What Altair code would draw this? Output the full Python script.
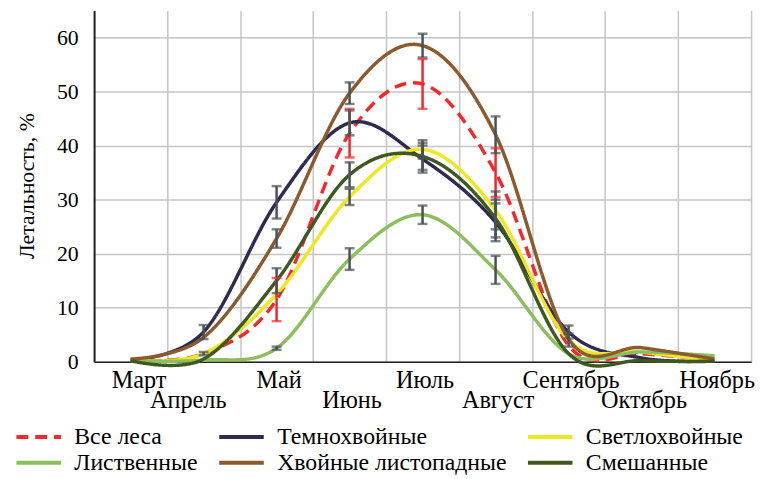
import altair as alt
import pandas as pd

months = ['Март', 'Апрель', 'Май', 'Июнь', 'Июль', 'Август', 'Сентябрь', 'Октябрь', 'Ноябрь']
series = ['Все леса', 'Темнохвойные', 'Светлохвойные', 'Лиственные', 'Хвойные листопадные', 'Смешанные']
colors = ['#F5282D', '#2E2B4F', '#EDE81F', '#8DBE5E', '#8B5A2E', '#3E5820']

vse = [0.3, 1.5, 11.5, 42.3, 51.4, 35.0, 3.0, 1.5, 0.5]
temno = [0.3, 5.5, 29.5, 44.2, 37.5, 25.8, 5.5, 0.7, 0.1]
svetlo = [0.3, 1.5, 12.5, 30.5, 39.3, 28.0, 4.0, 1.8, 0.3]
listv = [0.2, 0.3, 2.5, 19.0, 27.2, 17.0, 1.5, 1.8, 1.1]
hvoin = [0.5, 4.5, 22.8, 49.7, 58.5, 42.0, 4.2, 2.6, 0.5]
smesh = [0.2, 0.5, 15.0, 34.6, 38.0, 26.5, 1.5, 0.2, 0.1]

err_vse = [None, None, 4.0, 4.5, 4.6, 4.5, None, None, None]
err_temno = [None, 1.3, 3.0, 2.3, 2.5, 3.5, 1.2, None, None]
err_svetlo = [None, 0.3, None, 1.5, 1.7, 3.5, 1.2, None, None]
err_listv = [None, None, 0.3, 2.0, 1.7, 2.6, None, None, None]
err_hvoin = [None, None, 1.7, 2.0, 2.2, 3.4, None, None, None]
err_smesh = [None, None, 2.3, 2.3, 2.5, 3.5, None, None, None]

vals = [vse, temno, svetlo, listv, hvoin, smesh]
errs = [err_vse, err_temno, err_svetlo, err_listv, err_hvoin, err_smesh]

rows = []
erows = []
for si, (s, v, e) in enumerate(zip(series, vals, errs)):
    for m, val, er in zip(months, v, e):
        rows.append({'month': m, 'series': s, 'value': val, 'ord': si})
        if er is not None:
            erows.append({'month': m, 'series': s, 'lo': val - er, 'hi': val + er})
df = pd.DataFrame(rows)
edf = pd.DataFrame(erows)

FONT = 'Liberation Serif'
xscale = alt.Scale(type='band', paddingInner=0, paddingOuter=0)
stagger = "indexof(['Апрель','Июнь','Август','Октябрь'], datum.label) >= 0 ? ['', datum.label] : datum.label"
label_shift = {'condition': [{'test': "datum.label == 'Март'", 'value': 8},
                             {'test': "datum.label == 'Апрель'", 'value': -16}],
               'value': 2}

xaxis = alt.Axis(title=None, tickBand='extent', grid=True, gridColor='#C6C6CA', gridWidth=1.5,
                 ticks=False, domainColor='#222222', domainWidth=1.5, labelFont=FONT,
                 labelFontSize=24.5, labelColor='black', labelAngle=0, labelPadding=7,
                 labelBaseline='top', labelLineHeight=20, labelExpr=stagger,
                 labelOffset=label_shift)
yaxis = alt.Axis(values=[0, 10, 20, 30, 40, 50, 60], grid=True, gridColor='#C6C6CA', gridWidth=1.5,
                 ticks=False, domainColor='#222222', domainWidth=2, labelFont=FONT,
                 labelFontSize=22, labelColor='black', labelPadding=16,
                 title='Летальность, %', titleFont=FONT, titleFontSize=22, titleFontWeight='normal',
                 titleColor='black', titleX=-68, titleY=177, titleBaseline='middle', titleAngle=-90)

legend = alt.Legend(orient='none', legendX=-68, legendY=419, columns=3, direction='horizontal',
                    symbolType='M-2.5,0H2.5', symbolSize=324, symbolStrokeWidth=4,
                    labelFont=FONT, labelFontSize=24, labelColor='black', labelOffset=24,
                    columnPadding=13, rowPadding=2, title=None, labelLimit=400)

X = alt.X('month:N', sort=months, scale=xscale, axis=xaxis, bandPosition=0.5)
Y = alt.Y('value:Q', scale=alt.Scale(domain=[0, 65], nice=False), axis=yaxis)

lines = alt.Chart(df).mark_line(interpolate='cardinal', strokeWidth=3.5).encode(
    x=X,
    y=Y,
    color=alt.Color('series:N', sort=series, scale=alt.Scale(domain=series, range=colors), legend=legend),
    strokeDash=alt.StrokeDash('series:N', sort=series,
                              scale=alt.Scale(domain=series, range=[[12, 7], [1, 0], [1, 0], [1, 0], [1, 0], [1, 0]]),
                              legend=legend),
    order='ord:Q',
)

ecolor = alt.when(alt.datum.series == 'Все леса').then(alt.value('#F2262B')).otherwise(alt.value('#4A5157'))

Xe = alt.X('month:N', sort=months, scale=xscale, bandPosition=0.5)
rules = alt.Chart(edf).mark_rule(strokeWidth=2.5).encode(
    x=Xe, y=alt.Y('lo:Q'), y2='hi:Q', color=ecolor)
cap_lo = alt.Chart(edf).mark_tick(orient='horizontal', size=10, thickness=2.5).encode(
    x=Xe, y=alt.Y('lo:Q'), color=ecolor)
cap_hi = alt.Chart(edf).mark_tick(orient='horizontal', size=10, thickness=2.5).encode(
    x=Xe, y=alt.Y('hi:Q'), color=ecolor)

chart = alt.layer(lines, rules, cap_lo, cap_hi).properties(
    width=664, height=355,
    autosize='none',
    padding={'left': 87, 'top': 0, 'right': 7, 'bottom': 116},
    background='white',
).configure(font=FONT).configure_view(stroke=None).configure_legend(
    labelFont=FONT, labelFontSize=24, labelColor='black'
)

chart.save('out.html', embed_options={'renderer': 'svg', 'actions': False})
